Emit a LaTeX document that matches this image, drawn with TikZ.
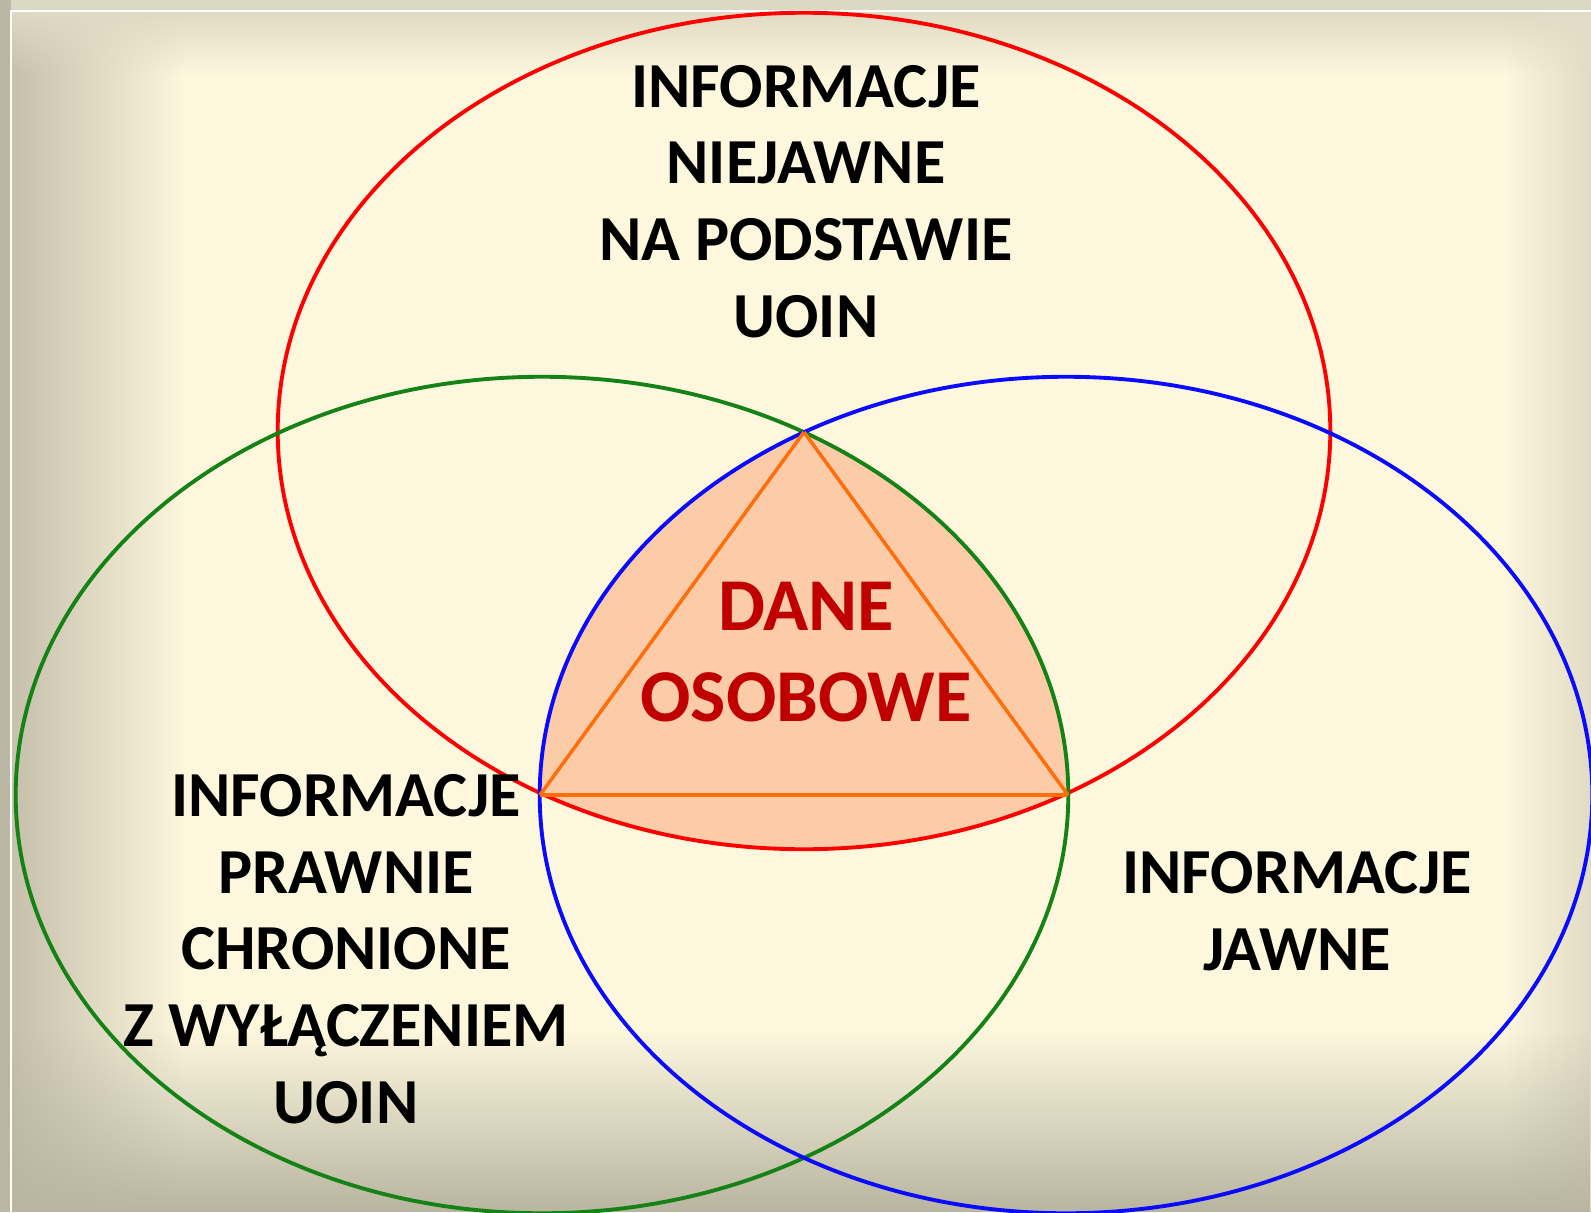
\documentclass[tikz,border=0pt]{standalone}
\usepackage{fontspec}
\setmainfont{Carlito}
\usetikzlibrary{fadings}

\definecolor{paper}{RGB}{253,247,222}
\definecolor{margin}{RGB}{186,183,164}
\definecolor{margintop}{RGB}{221,216,195}
\definecolor{shadeside}{RGB}{198,192,172}
\definecolor{shadetop}{RGB}{224,218,196}
\definecolor{shaderight}{RGB}{226,220,198}
\definecolor{shadebottom}{RGB}{184,181,160}
\definecolor{setred}{RGB}{255,0,0}
\definecolor{setgreen}{RGB}{20,130,20}
\definecolor{setblue}{RGB}{10,10,255}
\definecolor{daneorange}{RGB}{255,110,10}
\definecolor{danefill}{RGB}{252,203,167}
\definecolor{danered}{RGB}{192,0,0}

\tikzfading[name=fade out east, left color=transparent!0, right color=transparent!100]
\tikzfading[name=fade out west, left color=transparent!100, right color=transparent!0]
\tikzfading[name=fade out south, top color=transparent!0, bottom color=transparent!100]
\tikzfading[name=fade out north, top color=transparent!100, bottom color=transparent!0]

\tikzset{
  setring/.style={line width=1.1pt, x radius=5.26cm, y radius=4.18cm},
  setlabel/.style={font=\fontsize{18.25pt}{21.8pt}\selectfont\bfseries, align=center, inner sep=0pt, anchor=base},
  danelabel/.style={setlabel, font=\fontsize{21.2pt}{25.6pt}\selectfont\bfseries, text=danered},
  daneedge/.style={draw=daneorange, line width=1pt}
}

\begin{document}
\begin{tikzpicture}[x=0.01cm, y=-0.01cm]
            \useasboundingbox (0,0) rectangle (1591,1212);
            \clip (0,0) rectangle (1591,1212);

            % background with shaded edges
            \fill[margin] (0,0) rectangle (1591,1212);
            \fill[margintop] (11,0) rectangle (1591,11);
            \fill[paper] (11,11) rectangle (1591,1212);
            \fill[shadeside, path fading=fade out east] (11,11) rectangle (185,1212);
            \fill[shadetop, path fading=fade out south] (11,11) rectangle (1591,75);
            \fill[shaderight, path fading=fade out west] (1505,11) rectangle (1591,1212);
            \fill[shadebottom, path fading=fade out north] (11,1030) rectangle (1591,1212);
            \draw[white, line width=0.5pt] (11,1212) -- (11,11) -- (1591,11);

            \coordinate (njc) at (804,431);
            \coordinate (pcc) at (542,795);
            \coordinate (jwc) at (1066,795);
            \coordinate (top) at (804,432);
            \coordinate (left) at (540,795);
            \coordinate (right) at (1068,795);

            \begin{scope}
              \clip (njc) ellipse [x radius=5.26cm, y radius=4.18cm];
              \clip (pcc) ellipse [x radius=5.26cm, y radius=4.18cm];
              \fill[danefill] (jwc) ellipse [x radius=5.26cm, y radius=4.18cm];
            \end{scope}

            \draw[setring, setred] (njc) ellipse [];
            \draw[setring, setgreen] (pcc) ellipse [];
            \draw[setring, setblue] (jwc) ellipse [];

            \draw[daneedge] (top) -- (left); \draw[daneedge] (left) -- (right); \draw[daneedge] (right) -- (top);

            % base anchor sits on the last line
            \node[setlabel] (niejawne) at (806,337) {INFORMACJE\\NIEJAWNE\\NA PODSTAWIE\\UOIN};
            \node[setlabel] (chronione) at (346,1123) {INFORMACJE\\PRAWNIE\\CHRONIONE\\Z WYŁĄCZENIEM\\UOIN};
            \node[setlabel] (jawne) at (1297,970) {INFORMACJE\\JAWNE};
            \node[danelabel] (dane) at (806,721) {DANE\\OSOBOWE};
        \end{tikzpicture}
\end{document}
